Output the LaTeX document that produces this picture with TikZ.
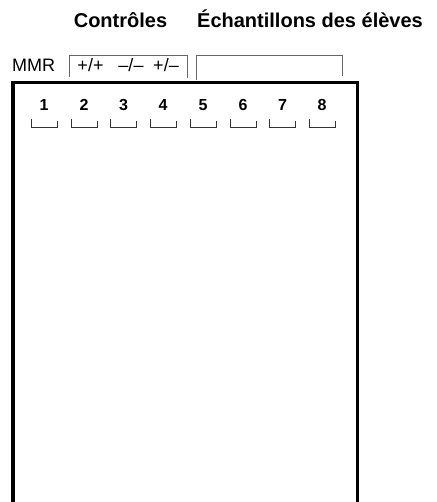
\documentclass[tikz,border=0pt]{standalone}
\usepackage{fontspec}
\setmainfont{Liberation Sans}
\usetikzlibrary{positioning}

\begin{document}
\begin{tikzpicture}[x=1pt, y=-1pt, every node/.style={inner sep=0pt}]
        \tikzset{head/.style={font=\fontsize{20}{23}\selectfont\bfseries, anchor=base},
                 lbl/.style={font=\fontsize{18}{21}\selectfont, anchor=base},
                 num/.style={font=\fontsize{16}{19}\selectfont\bfseries, anchor=base},
                 tab/.style={draw=black!60, line width=1pt},
                 slot/.style={draw=black!80, line width=0.9pt}}
        \useasboundingbox (0,0) rectangle (436,502);
        % headings
        \node[head] (ctl) at (120.5,27.5) {Contrôles};
        \node[head] (smp) at (310,27.5) {Échantillons des élèves};
        % tabs above the tray
        \node[lbl, anchor=base west] (mmr) at (12,72) {MMR};
        \draw[tab] (69,77) -- (69,56) -- (187,56) -- (187,78);
        \node[lbl] (pp) at (90.5,71.5) {+/+}; \node[lbl] (mm) at (131,71.5) {–/–}; \node[lbl] (pm) at (166,71.5) {+/–};
        \draw[tab] (196,80) -- (196,56) -- (342,56) -- (342,76);
        % tray
        \draw[line width=3.8pt] (13,503) -- (13,82.5) -- (357.5,82.5) -- (357.5,503);
        % wells
        \node[num] (w1) at (44,111) {1}; \draw[slot] (31,119) -- (31,127) -- (57,127) -- (57,121);
        \node[num] (w2) at (84,111) {2}; \draw[slot] (71,119) -- (71,127) -- (97,127) -- (97,121);
        \node[num] (w3) at (123.5,111) {3}; \draw[slot] (110.5,119) -- (110.5,127) -- (136.5,127) -- (136.5,121);
        \node[num] (w4) at (163,111) {4}; \draw[slot] (150,119) -- (150,127) -- (176,127) -- (176,121);
        \node[num] (w5) at (203,111) {5}; \draw[slot] (190,119) -- (190,127) -- (216,127) -- (216,121);
        \node[num] (w6) at (243,111) {6}; \draw[slot] (230,119) -- (230,127) -- (256,127) -- (256,121);
        \node[num] (w7) at (282.5,111) {7}; \draw[slot] (269.5,119) -- (269.5,127) -- (295.5,127) -- (295.5,121);
        \node[num] (w8) at (322,111) {8}; \draw[slot] (309,119) -- (309,127) -- (335,127) -- (335,121);
\end{tikzpicture}
\end{document}
